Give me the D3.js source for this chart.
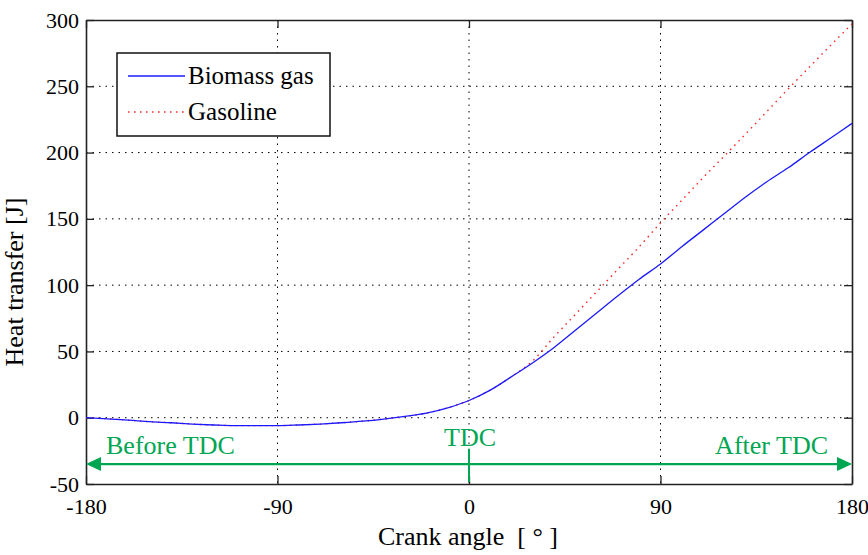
<!DOCTYPE html>
<html>
<head>
<meta charset="utf-8">
<script src="https://cdn.jsdelivr.net/npm/d3@7"></script>
<style>
  body { margin: 0; background: #fff; }
  text { font-family: "Liberation Serif", "Times New Roman", serif; }
</style>
</head>
<body>
<div id="chart"></div>
<script>
// crank angle in degrees
const angles = [-180, -170, -160, -150, -140, -130, -120, -110, -100, -90, -80, -70, -60, -50, -40, -30, -20, -10,
    0, 10, 20, 30, 40, 50, 60, 70, 80, 90, 100, 110, 120, 130, 140, 150, 160, 170, 180];

// heat transfer [J]
const biomassGas = [0, -0.8, -1.8, -3, -3.8, -4.8, -5.5, -6, -6, -6, -5.5, -4.8, -3.8, -2.6, -1, 1, 3.5, 7.5,
    13, 20.8, 31, 41.5, 53, 66, 79, 92, 104.5, 116, 129, 141.5, 154, 166.5, 178, 188.5, 200, 211, 222];
const gasoline = [0, -0.8, -1.8, -3, -3.8, -4.8, -5.5, -6, -6, -6, -5.5, -4.8, -3.8, -2.6, -1, 1, 3.5, 7.5,
    13, 20.8, 31, 43, 61, 78, 95, 112, 129, 147, 164, 181, 197.5, 214, 231, 248, 264.5, 281, 297];

const xTicks = [-180, -90, 0, 90, 180];
const yTicks = [-50, 0, 50, 100, 150, 200, 250, 300];
const seriesNames = ['Biomass gas', 'Gasoline'];

const margin = {top: 20, right: 16, bottom: 71, left: 86};
const width = 868 - margin.left - margin.right;
const height = 555 - margin.top - margin.bottom;
const green = '#00a651';

const svg = d3.select('#chart')
    .append('svg')
    .attr('width', width + margin.left + margin.right)
    .attr('height', height + margin.top + margin.bottom)
    .append('g')
    .attr('transform', `translate(${margin.left},${margin.top})`);

const x = d3.scaleLinear().domain([-180, 180]).range([0, width]);
const y = d3.scaleLinear().domain([-50, 300]).range([height, 0]);

// dotted grid
svg.append('g')
    .selectAll('line')
    .data(xTicks.slice(1, -1))
    .enter()
    .append('line')
    .attr('x1', d => x(d)).attr('x2', d => x(d))
    .attr('y1', 0).attr('y2', height)
    .attr('stroke', '#000')
    .attr('stroke-dasharray', '1.5,5');

svg.append('g')
    .selectAll('line')
    .data(yTicks.slice(1, -1))
    .enter()
    .append('line')
    .attr('y1', d => y(d)).attr('y2', d => y(d))
    .attr('x1', 0).attr('x2', width)
    .attr('stroke', '#000')
    .attr('stroke-dasharray', '1.5,5');

// axes, ticks inward, box all round
const axisStyle = g => {
    g.select('.domain').attr('stroke', '#222').attr('stroke-width', 1.6);
    g.selectAll('.tick line').attr('stroke', '#222').attr('stroke-width', 1.3);
    g.selectAll('.tick text')
        .attr('fill', '#000')
        .style('font-family', '"Liberation Serif", serif')
        .style('font-size', '22px');
};
const plain = d => String(d);

svg.append('g')
    .attr('transform', `translate(0,${height})`)
    .call(d3.axisBottom(x).tickValues(xTicks).tickSize(-8).tickSizeOuter(0).tickPadding(14).tickFormat(plain))
    .call(axisStyle);

svg.append('g')
    .call(d3.axisLeft(y).tickValues(yTicks).tickSize(-8).tickSizeOuter(0).tickPadding(7).tickFormat(plain))
    .call(axisStyle);

svg.append('g')
    .call(d3.axisTop(x).tickValues(xTicks).tickSize(-8).tickSizeOuter(0).tickFormat(''))
    .call(axisStyle);

svg.append('g')
    .attr('transform', `translate(${width},0)`)
    .call(d3.axisRight(y).tickValues(yTicks).tickSize(-8).tickSizeOuter(0).tickFormat(''))
    .call(axisStyle);

// axis labels
svg.append('text')
    .attr('x', width / 2 - 1)
    .attr('y', height + 61)
    .attr('text-anchor', 'middle')
    .style('font-size', '26px')
    .style('white-space', 'pre')
    .text('Crank angle  [ \u00b0 ]');

svg.append('text')
    .attr('transform', 'rotate(-90)')
    .attr('x', -(height / 2 + 30))
    .attr('y', -63)
    .attr('text-anchor', 'middle')
    .style('font-size', '26px')
    .text('Heat transfer [J]');

// curves
const lineOf = values => d3.line()
    .x((d, i) => x(angles[i]))
    .y(d => y(d))
    .curve(d3.curveMonotoneX)(values);

svg.append('path')
    .attr('d', lineOf(gasoline))
    .attr('fill', 'none')
    .attr('stroke', '#ff2020')
    .attr('stroke-width', 1.4)
    .attr('stroke-dasharray', '1.5,4.5');

svg.append('path')
    .attr('d', lineOf(biomassGas))
    .attr('fill', 'none')
    .attr('stroke', '#1a1aff')
    .attr('stroke-width', 1.3);

// green TDC annotation
const arrowY = y(-35);
svg.append('line')
    .attr('x1', x(-180) + 12).attr('x2', x(180) - 12)
    .attr('y1', arrowY).attr('y2', arrowY)
    .attr('stroke', green)
    .attr('stroke-width', 2.2);

svg.append('path')
    .attr('d', `M${x(-180)},${arrowY} l15,-7 l0,14 Z`)
    .attr('fill', green);
svg.append('path')
    .attr('d', `M${x(180)},${arrowY} l-15,-7 l0,14 Z`)
    .attr('fill', green);

svg.append('line')
    .attr('x1', x(0)).attr('x2', x(0))
    .attr('y1', y(-23.5)).attr('y2', y(-48.5))
    .attr('stroke', green)
    .attr('stroke-width', 2);

svg.append('text')
    .attr('x', x(-180) + 20).attr('y', y(-27.5))
    .attr('fill', green)
    .style('font-size', '26px')
    .text('Before TDC');

svg.append('text')
    .attr('x', x(0) + 1).attr('y', y(-21))
    .attr('fill', green)
    .attr('text-anchor', 'middle')
    .style('font-size', '26px')
    .text('TDC');

svg.append('text')
    .attr('x', x(180) - 24).attr('y', y(-27.5))
    .attr('fill', green)
    .attr('text-anchor', 'end')
    .style('font-size', '26px')
    .text('After TDC');

// legend
const legend = svg.append('g').attr('transform', 'translate(31,33)');
legend.append('rect')
    .attr('width', 213).attr('height', 83)
    .attr('fill', '#fff')
    .attr('stroke', '#111')
    .attr('stroke-width', 1.5);

const legendStyles = [
    {stroke: '#1a1aff', dash: null},
    {stroke: '#ff2020', dash: '1.5,4.5'}
];
seriesNames.forEach((name, i) => {
    const ly = 23 + i * 36;
    legend.append('line')
        .attr('x1', 11).attr('x2', 68)
        .attr('y1', ly).attr('y2', ly)
        .attr('stroke', legendStyles[i].stroke)
        .attr('stroke-width', 1.4)
        .attr('stroke-dasharray', legendStyles[i].dash);
    legend.append('text')
        .attr('x', 71).attr('y', ly + 8)
        .style('font-size', '25px')
        .text(name);
});
</script>
</body>
</html>
